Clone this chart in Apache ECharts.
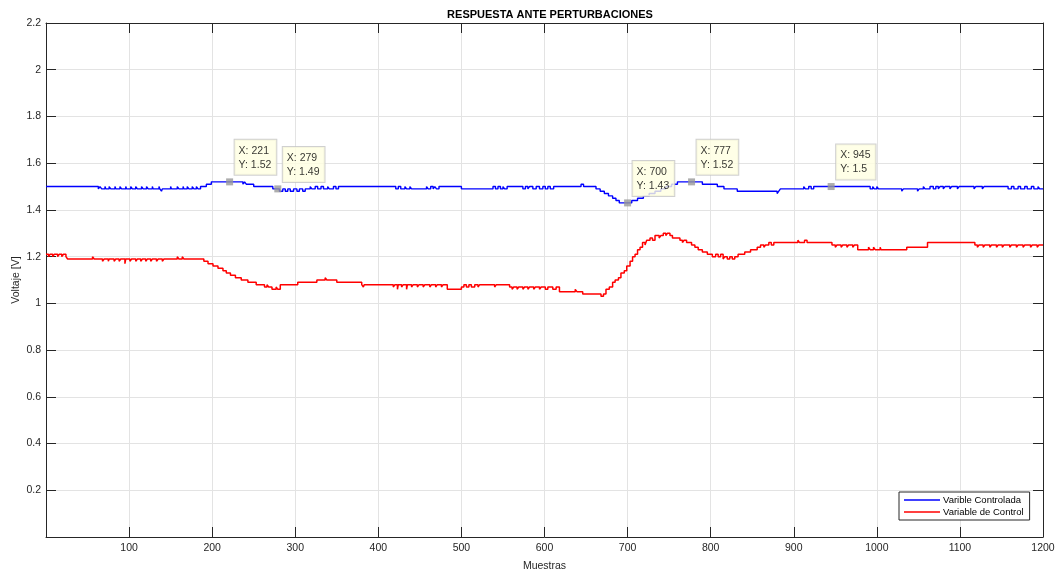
<!DOCTYPE html>
<html>
<head>
<meta charset="utf-8">
<title>Respuesta ante perturbaciones</title>
<script src="https://cdn.jsdelivr.net/npm/echarts@6/dist/echarts.min.js"></script>
<style>
  html, body { margin: 0; padding: 0; background: #ffffff; }
  #chart { width: 1057px; height: 571px; }
</style>
</head>
<body>
<div id="chart"></div>
<script>
// Axis ticks
const xTicks = { min: 0, max: 1200, step: 100 };
const yTicks = { min: 0, max: 2.2, step: 0.2 };

// Series names
const seriesNames = ['Varible Controlada', 'Variable de Control'];

// Controlled variable: [sample, voltage] at each change of level
const controlada = [
  [0,1.50],[63,1.49],[65,1.50],[67,1.49],[71,1.50],[72,1.49],[76,1.50],[78,1.49],[83,1.50],[84,1.49],
  [89,1.50],[91,1.49],[96,1.50],[97,1.49],[102,1.50],[104,1.49],[108,1.50],[110,1.49],[115,1.50],[117,1.49],
  [121,1.50],[123,1.49],[128,1.50],[129,1.49],[136,1.50],[137,1.49],[139,1.48],[140,1.49],[150,1.50],[151,1.49],
  [158,1.50],[160,1.49],[165,1.50],[166,1.49],[170,1.50],[172,1.49],[176,1.50],[178,1.49],[181,1.50],[183,1.49],
  [186,1.50],[193,1.51],[199,1.52],[237,1.51],[239,1.52],[241,1.51],[250,1.50],[273,1.49],[281,1.48],[285,1.49],
  [288,1.48],[291,1.49],[294,1.48],[298,1.49],[302,1.48],[305,1.49],[309,1.48],[312,1.49],[318,1.50],[320,1.49],
  [324,1.50],[327,1.49],[331,1.50],[334,1.49],[339,1.50],[341,1.49],[346,1.50],[349,1.49],[352,1.50],
  [421,1.49],[424,1.50],[427,1.49],[432,1.50],[434,1.49],[438,1.50],[440,1.49],[458,1.50],[460,1.49],[463,1.50],
  [466,1.49],[468,1.50],[470,1.49],[473,1.50],
  [500,1.49],[538,1.50],[541,1.49],[544,1.50],[547,1.49],[550,1.50],[552,1.49],[555,1.50],
  [574,1.49],[577,1.50],[580,1.49],[582,1.50],[586,1.49],[590,1.50],[594,1.49],[598,1.50],[601,1.49],[604,1.50],
  [607,1.49],[611,1.50],
  [644,1.51],[647,1.50],[662,1.49],[667,1.48],[672,1.47],[677,1.46],[682,1.45],[686,1.44],[690,1.43],[705,1.44],
  [712,1.45],[719,1.46],[726,1.47],[733,1.48],[740,1.49],[746,1.50],[753,1.51],[760,1.52],[790,1.51],[808,1.50],
  [816,1.49],[832,1.48],[880,1.47],[882,1.48],[884,1.49],[912,1.50],[914,1.49],[918,1.50],[921,1.49],[924,1.50],
  [992,1.49],[995,1.50],[997,1.49],[1000,1.50],[1002,1.49],[1030,1.48],[1032,1.49],[1049,1.48],[1051,1.49],[1056,1.50],
  [1058,1.49],[1064,1.50],[1068,1.49],[1071,1.50],[1074,1.49],[1076,1.50],[1080,1.49],[1082,1.50],[1088,1.49],[1090,1.50],
  [1097,1.49],[1099,1.50],[1117,1.49],[1119,1.50],[1127,1.49],[1129,1.50],[1158,1.49],[1162,1.50],[1165,1.49],[1170,1.50],
  [1173,1.49],[1178,1.50],[1181,1.49],[1186,1.50],[1189,1.49],[1194,1.50],[1196,1.49],[1200,1.49]
];

// Control variable: [sample, voltage] at each change of level
const control = [
  [0,1.21],[3,1.20],[5,1.21],[8,1.20],[10,1.21],[14,1.20],[16,1.21],[19,1.20],[21,1.21],[24,1.20],
  [26,1.19],[56,1.20],[58,1.19],[68,1.18],[70,1.19],[75,1.18],[76,1.19],[82,1.18],[84,1.19],[88,1.18],
  [90,1.19],[95,1.17],[96,1.19],[101,1.18],[103,1.19],[108,1.18],[110,1.19],[114,1.18],[116,1.19],[120,1.18],
  [122,1.19],[126,1.18],[128,1.19],[133,1.18],[135,1.19],[140,1.18],[142,1.19],[158,1.20],[160,1.19],[164,1.20],
  [166,1.19],
  [190,1.18],[195,1.17],[201,1.16],[207,1.15],[213,1.14],[217,1.13],[222,1.12],[228,1.11],[235,1.10],[243,1.09],
  [253,1.08],[263,1.07],[266,1.08],[268,1.07],[272,1.06],[277,1.07],[279,1.06],[282,1.08],[303,1.09],[326,1.10],
  [336,1.11],[338,1.10],[350,1.09],[380,1.08],[382,1.07],[383,1.08],
  [418,1.07],[420,1.08],[423,1.06],[424,1.08],[428,1.07],[430,1.08],[434,1.06],[435,1.08],[440,1.07],[442,1.08],
  [447,1.07],[449,1.08],[454,1.07],[456,1.08],[462,1.07],[464,1.08],[469,1.07],[471,1.08],[476,1.07],[478,1.08],
  [483,1.06],[500,1.07],[503,1.08],[506,1.07],[509,1.08],[512,1.07],[516,1.08],[520,1.07],[522,1.08],[540,1.07],
  [542,1.08],
  [558,1.07],[561,1.06],[563,1.07],[567,1.06],[569,1.07],[574,1.06],[576,1.07],[580,1.06],[582,1.07],[587,1.06],
  [589,1.07],[594,1.06],[596,1.07],[601,1.06],[604,1.07],[610,1.06],[614,1.07],[618,1.05],[637,1.06],[639,1.05],
  [646,1.04],[668,1.03],
  [671,1.04],[674,1.06],[678,1.07],[682,1.09],[685,1.10],[689,1.11],[692,1.13],[696,1.14],[699,1.16],[703,1.18],
  [706,1.20],[709,1.21],[712,1.23],[715,1.24],[718,1.26],[721,1.25],[723,1.27],[727,1.28],[730,1.27],[733,1.29],
  [738,1.28],[740,1.29],[743,1.30],[746,1.29],[748,1.30],[751,1.29],[754,1.28],[760,1.28],[763,1.27],[766,1.26],
  [768,1.27],[771,1.26],[777,1.25],[781,1.24],[785,1.23],[790,1.22],[796,1.21],[802,1.20],[806,1.21],[809,1.20],
  [812,1.21],[815,1.19],[817,1.20],[820,1.19],[823,1.20],[826,1.19],[829,1.20],[833,1.21],[841,1.22],[848,1.23],
  [856,1.24],[860,1.25],[864,1.24],[866,1.25],[870,1.26],[873,1.25],[876,1.26],[905,1.27],[907,1.26],[913,1.27],
  [916,1.26],[946,1.25],[950,1.24],[952,1.25],[957,1.24],[959,1.25],[964,1.24],[966,1.25],[971,1.24],[973,1.25],
  [977,1.23],[990,1.24],[992,1.23],[996,1.24],[998,1.23],[1004,1.24],[1005,1.23],[1036,1.24],[1061,1.26],[1118,1.25],
  [1121,1.24],[1123,1.25],[1128,1.24],[1130,1.25],[1136,1.24],[1138,1.25],[1144,1.24],[1146,1.25],[1151,1.24],[1153,1.25],
  [1160,1.24],[1162,1.25],[1168,1.24],[1170,1.25],[1176,1.24],[1178,1.25],[1185,1.24],[1187,1.25],[1193,1.24],[1195,1.25],
  [1200,1.25]
];

// Data tips placed on the controlled variable
const dataTips = [[221,1.52],[279,1.49],[700,1.43],[777,1.52],[945,1.5]];

const FONT = '"Liberation Sans", Arial, Helvetica, sans-serif';
const AXIS_COLOR = '#262626';
const GRID_COLOR = '#e3e3e3';

function hideZero(v) { return v === 0 ? '' : String(+v.toFixed(1)); }

const frameX = (pos, withLabels) => ({
  type: 'value', position: pos,
  min: xTicks.min, max: xTicks.max, interval: xTicks.step,
  axisLine: { show: true, onZero: false, lineStyle: { color: AXIS_COLOR, width: 1 } },
  axisTick: { show: true, inside: true, length: 10, lineStyle: { color: AXIS_COLOR } },
  splitLine: { show: withLabels, lineStyle: { color: GRID_COLOR, width: 1 } },
  axisLabel: withLabels ? {
    show: true, margin: 6, color: AXIS_COLOR, fontFamily: FONT, fontSize: 10.5,
    formatter: v => (v === 0 ? '' : String(v))
  } : { show: false }
});

const frameY = (pos, withLabels) => ({
  type: 'value', position: pos,
  min: yTicks.min, max: yTicks.max, interval: yTicks.step,
  axisLine: { show: true, onZero: false, lineStyle: { color: AXIS_COLOR, width: 1 } },
  axisTick: { show: true, inside: true, length: 10, lineStyle: { color: AXIS_COLOR } },
  splitLine: { show: withLabels, lineStyle: { color: GRID_COLOR, width: 1 } },
  axisLabel: withLabels ? {
    show: true, margin: 5, color: AXIS_COLOR, fontFamily: FONT, fontSize: 10.5,
    formatter: hideZero
  } : { show: false }
});

const xMain = Object.assign(frameX('bottom', true), {
  name: 'Muestras', nameLocation: 'middle', nameGap: 24, nameMoveOverlap: false,
  nameTextStyle: { color: AXIS_COLOR, fontFamily: FONT, fontSize: 10.5 }
});
const yMain = Object.assign(frameY('left', true), {
  name: 'Voltaje [V]', nameLocation: 'middle', nameGap: 24, nameMoveOverlap: false,
  nameTextStyle: { color: AXIS_COLOR, fontFamily: FONT, fontSize: 10.5 }
});

const chart = echarts.init(document.getElementById('chart'), null, { renderer: 'canvas' });

chart.setOption({
  backgroundColor: '#ffffff',
  animation: false,
  title: {
    text: 'RESPUESTA ANTE PERTURBACIONES',
    left: 545, top: 4, textAlign: 'center',
    textStyle: { fontFamily: FONT, fontSize: 11, fontWeight: 'bold', color: '#000000' }
  },
  grid: { left: 46, right: 14, top: 23, bottom: 34, containLabel: false, outerBoundsMode: 'none' },
  xAxis: [xMain, frameX('top', false)],
  yAxis: [yMain, frameY('right', false)],
  legend: {
    data: seriesNames,
    orient: 'vertical',
    left: 899, top: 492,
    backgroundColor: '#ffffff',
    borderColor: AXIS_COLOR, borderWidth: 1,
    padding: [3, 6, 3, 5],
    itemGap: 2,
    itemWidth: 36, itemHeight: 1.5,
    icon: 'rect',
    textStyle: { fontFamily: FONT, fontSize: 9.5, color: '#000000', padding: [0, 0, 0, -2] }
  },
  series: [
    {
      name: seriesNames[0], type: 'line', data: controlada,
      step: 'end', showSymbol: false, symbol: 'none',
      lineStyle: { color: '#0000ff', width: 1.4 }, itemStyle: { color: '#0000ff' },
      z: 3
    },
    {
      name: seriesNames[1], type: 'line', data: control,
      step: 'end', showSymbol: false, symbol: 'none',
      lineStyle: { color: '#ff0000', width: 1.5 }, itemStyle: { color: '#ff0000' },
      z: 3
    },
    {
      name: 'tips', type: 'scatter', data: dataTips,
      symbol: 'rect', symbolSize: 7,
      itemStyle: { color: '#999999' },
      z: 5,
      label: {
        show: true,
        position: [8.5, -38.5],
        formatter: p => 'X: ' + p.value[0] + '\nY: ' + p.value[1],
        fontFamily: FONT, fontSize: 10.5, color: '#000000', lineHeight: 14,
        backgroundColor: '#ffffe1', borderColor: '#c4c4c4', borderWidth: 1,
        padding: [4, 5, 3, 4], align: 'left', verticalAlign: 'top'
      }
    }
  ]
});
</script>
</body>
</html>
